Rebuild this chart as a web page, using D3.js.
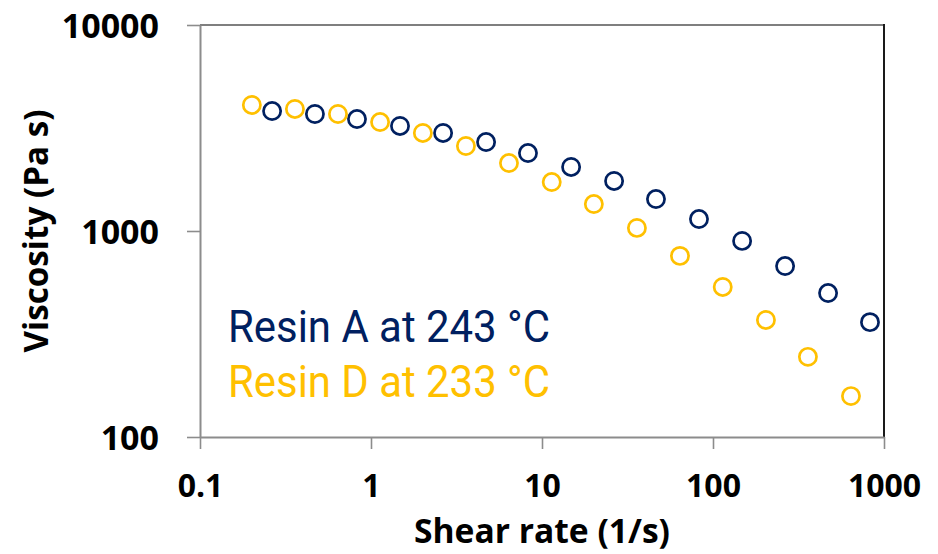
<!DOCTYPE html>
<html>
<head>
<meta charset="utf-8">
<script src="https://cdn.jsdelivr.net/npm/d3@7"></script>
<style>
  html, body { margin: 0; padding: 0; background: #fff; }
  svg { display: block; }
</style>
</head>
<body>
<svg id="chart" width="938" height="554"></svg>
<script>
// ---- data ----
const resinA_rate = [0.264, 0.470, 0.828, 1.478, 2.64, 4.71, 8.28, 14.8, 26.4, 46.4, 82.8, 148, 264, 471, 828];
const resinA_visc = [3823, 3698, 3495, 3235, 2992, 2704, 2391, 2045, 1749, 1429, 1143, 895, 676, 500, 361];
const resinD_rate = [0.201, 0.359, 0.641, 1.13, 2.01, 3.59, 6.41, 11.4, 20.1, 35.9, 64.1, 114, 204, 359, 641];
const resinD_visc = [4090, 3912, 3698, 3381, 2992, 2586, 2138, 1729, 1352, 1035, 757, 535, 370, 245, 158];
const xTicks = [0.1, 1, 10, 100, 1000];
const xTickLabels = ["0.1", "1", "10", "100", "1000"];
const yTicks = [100, 1000, 10000];
const yTickLabels = ["100", "1000", "10000"];
const seriesNames = ["Resin A at 243 °C", "Resin D at 233 °C"];
const seriesColors = ["#002060", "#FFC000"];
const xTitle = "Shear rate (1/s)";
const yTitle = "Viscosity (Pa s)";

// ---- layout ----
const plot = { left: 200, top: 25, right: 884, bottom: 437 };
const svg = d3.select("#chart");

const x = d3.scaleLog().domain([0.1, 1000]).range([plot.left, plot.right]);
const y = d3.scaleLog().domain([100, 10000]).range([plot.bottom, plot.top]);

// frame: top and right edges
svg.append("line")
  .attr("x1", plot.left).attr("x2", plot.right)
  .attr("y1", plot.top).attr("y2", plot.top)
  .attr("stroke", "#7f7f7f").attr("stroke-width", 2);
svg.append("line")
  .attr("x1", plot.right).attr("x2", plot.right)
  .attr("y1", plot.top - 1).attr("y2", plot.bottom)
  .attr("stroke", "#1a1a1a").attr("stroke-width", 2);

const labelFont = "'Open Sans', 'DejaVu Sans', sans-serif";

// x axis
const xAxis = svg.append("g")
  .attr("transform", `translate(0,${plot.bottom})`)
  .call(d3.axisBottom(x).tickValues(xTicks)
    .tickFormat((d, i) => xTickLabels[i])
    .tickSizeInner(12).tickSizeOuter(0).tickPadding(25));
xAxis.select(".domain").attr("stroke", "#8c8c8c").attr("stroke-width", 2);
xAxis.selectAll(".tick line").attr("stroke", "#8c8c8c").attr("stroke-width", 1.6);
xAxis.selectAll(".tick text")
  .attr("font-family", labelFont).attr("font-weight", "bold")
  .attr("font-size", 32).attr("fill", "#000")
  .attr("dy", "0.71em");

// y axis
const yAxis = svg.append("g")
  .attr("transform", `translate(${plot.left},0)`)
  .call(d3.axisLeft(y).tickValues(yTicks)
    .tickFormat((d, i) => yTickLabels[i])
    .tickSizeInner(13).tickSizeOuter(0).tickPadding(28));
yAxis.select(".domain").attr("stroke", "#8c8c8c").attr("stroke-width", 2);
yAxis.selectAll(".tick line").attr("stroke", "#8c8c8c").attr("stroke-width", 1.6);
yAxis.selectAll(".tick text")
  .attr("font-family", labelFont).attr("font-weight", "bold")
  .attr("font-size", 34).attr("fill", "#000")
  .attr("dy", "0.36em");

// axis titles
svg.append("text")
  .attr("x", (plot.left + plot.right) / 2).attr("y", 543)
  .attr("text-anchor", "middle")
  .attr("font-family", labelFont).attr("font-weight", "bold")
  .attr("font-size", 34).attr("fill", "#000")
  .attr("textLength", 256).attr("lengthAdjust", "spacingAndGlyphs")
  .text(xTitle);

svg.append("text")
  .attr("transform", `translate(48,${(plot.top + plot.bottom) / 2}) rotate(-90)`)
  .attr("text-anchor", "middle")
  .attr("font-family", labelFont).attr("font-weight", "bold")
  .attr("font-size", 34).attr("fill", "#000")
  .attr("textLength", 243).attr("lengthAdjust", "spacingAndGlyphs")
  .text(yTitle);

// series
const series = [
  { rate: resinA_rate, visc: resinA_visc, color: seriesColors[0] },
  { rate: resinD_rate, visc: resinD_visc, color: seriesColors[1] }
];
series.forEach(s => {
  svg.append("g").selectAll("circle")
    .data(s.rate.map((r, i) => [r, s.visc[i]]))
    .join("circle")
    .attr("cx", d => x(d[0]))
    .attr("cy", d => y(d[1]))
    .attr("r", 8.6)
    .attr("fill", "none")
    .attr("stroke", s.color)
    .attr("stroke-width", 2.7);
});

// legend text
const legendFont = "'Roboto', 'Open Sans', sans-serif";
[342, 397].forEach((yy, i) => {
  svg.append("text")
    .attr("x", 228).attr("y", yy)
    .attr("font-family", legendFont)
    .attr("font-size", 45)
    .attr("fill", seriesColors[i])
    .attr("textLength", 322).attr("lengthAdjust", "spacingAndGlyphs")
    .text(seriesNames[i]);
});
</script>
</body>
</html>
